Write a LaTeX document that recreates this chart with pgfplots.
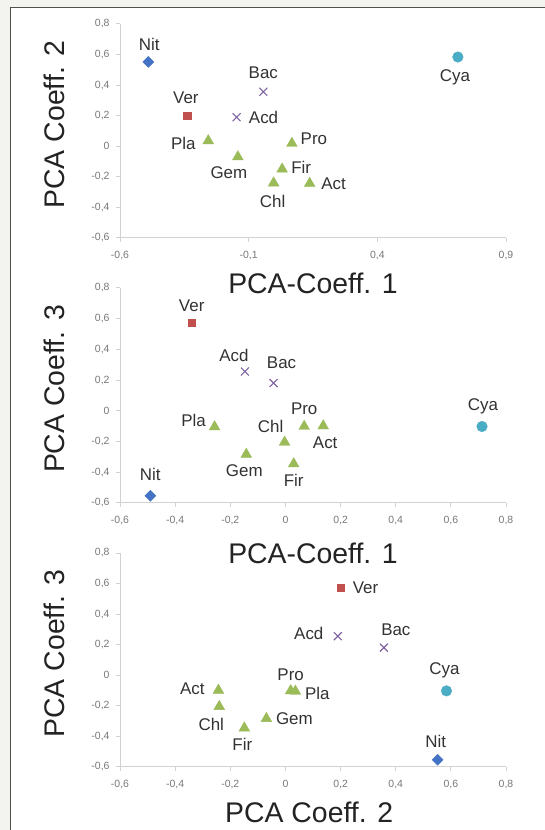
\documentclass[border=0pt]{standalone}
\usepackage{fontspec}
\setmainfont{Liberation Sans}
\usepackage{pgfplots}
\usepackage{pgfplotstable}
\pgfplotsset{compat=1.18}

\definecolor{bgc}{RGB}{243,243,239}
\definecolor{framec}{RGB}{80,80,80}
\definecolor{axisgray}{RGB}{210,210,210}
\definecolor{tickgray}{RGB}{120,120,120}
\definecolor{labgray}{RGB}{50,50,50}
\definecolor{titlec}{RGB}{35,35,35}
\definecolor{cblue}{RGB}{68,114,196}
\definecolor{cred}{RGB}{192,80,77}
\definecolor{cpurple}{RGB}{128,100,162}
\definecolor{cgreen}{RGB}{155,187,89}
\definecolor{ccyan}{RGB}{75,172,198}

% name  coeff1  coeff2  coeff3  label offsets (bp) for panel 1, 2, 3
\pgfplotstableread{
name c1 c2 c3 xa ya xb yb xc yc
Nit -0.490 0.552 -0.553 1 17 0 21 -2 18
}\tnit
\pgfplotstableread{
name c1 c2 c3 xa ya xb yb xc yc
Ver -0.340 0.200 0.573 -1 18 0 17 25 0
}\tver
\pgfplotstableread{
name c1 c2 c3 xa ya xb yb xc yc
Acd -0.147 0.190 0.256 27 0 -11 16 -29 3
Bac -0.043 0.357 0.181 0 19 8 20 12 18
}\tx
\pgfplotstableread{
name c1 c2 c3 xa ya xb yb xc yc
Pla -0.257 0.036 -0.104 -25 -3 -21 6 22 -2
Gem -0.142 -0.069 -0.283 -9 -16 -2 -16 28 0
Pro 0.068 0.019 -0.101 22 5 0 18 0 16
Fir 0.030 -0.149 -0.345 19 2 0 -17 -2 -16
Chl -0.003 -0.240 -0.204 -1 -18 -14 16 -8 -18
Act 0.137 -0.243 -0.098 24 0 2 -17 -26 2
}\ttri
\pgfplotstableread{
name c1 c2 c3 xa ya xb yb xc yc
Cya 0.713 0.584 -0.102 -3 -20 1 20 -2 21
}\tcya

\pgfplotsset{
  pca/.style={
    scale only axis, width=386bp, height=214bp,
    axis x line*=bottom, axis y line*=left,
    axis line style={draw=axisgray, line width=1bp, -},
    tick style={draw=axisgray, line width=1bp},
    tick align=outside, major tick length=4bp,
    ymin=-0.6, ymax=0.8,
    ytick={-0.6,-0.4,-0.2,0,0.2,0.4,0.6,0.8},
    scaled ticks=false,
    ticklabel style={font=\fontsize{10.5}{12}\selectfont, text=tickgray},
    yticklabel style={xshift=-3bp},
    xticklabel style={yshift=-6bp},
    /pgf/number format/.cd, use comma, fixed, precision=1, assume math mode=true,
    /pgfplots/.cd,
    clip=false,
    point meta=explicit symbolic,
    nodes near coords,
    every node near coord/.append style={font=\fontsize{17}{18}\selectfont, text=labgray, anchor=center, inner sep=0pt, xshift=\dx bp, yshift=\dy bp},
    label style={font=\fontsize{28.5}{30}\selectfont, text=titlec},
    xlabel style={at={(axis description cs:0.5,-0.21)}, anchor=center},
    ylabel style={at={(axis description cs:-0.171,0.53)}, anchor=center},
  },
  mnit/.style={only marks, mark=square*, mark size=3.9bp, mark options={fill=cblue, draw=cblue, rotate=45}},
  mver/.style={only marks, mark=square*, mark size=3.8bp, mark options={fill=cred, draw=cred}},
  mx/.style={only marks, mark=x, mark size=5.6bp, mark options={draw=cpurple, line width=1.1bp}},
  mtri/.style={only marks, mark=triangle*, mark size=6.2bp, mark options={fill=cgreen, draw=cgreen}},
  mcya/.style={only marks, mark=*, mark size=5.3bp, mark options={fill=ccyan, draw=ccyan}},
}

\begin{document}
\begin{tikzpicture}
\useasboundingbox (0,0) rectangle (545bp,830bp);
\fill[bgc] (0,0) rectangle (545bp,830bp);
\fill[white] (10.5bp,0) rectangle (545bp,822.5bp);
\draw[framec, line width=1.6bp] (10.5bp,0) -- (10.5bp,822.5bp) -- (545bp,822.5bp);

% Panel 1
\begin{axis}[pca, at={(120bp,592bp)}, anchor=south west,
  xmin=-0.6, xmax=0.9, xtick={-0.6,-0.1,0.4,0.9},
  xlabel={PCA-Coeff. 1}, ylabel={PCA Coeff. 2},
  visualization depends on={\thisrow{xa}\as\dx},
  visualization depends on={\thisrow{ya}\as\dy}]
\addplot[mnit] table[x=c1, y=c2, meta=name] {\tnit};
\addplot[mver] table[x=c1, y=c2, meta=name] {\tver};
\addplot[mx] table[x=c1, y=c2, meta=name] {\tx};
\addplot[mtri] table[x=c1, y=c2, meta=name] {\ttri};
\addplot[mcya] table[x=c1, y=c2, meta=name] {\tcya};
\end{axis}

% Panel 2
\begin{axis}[pca, at={(120bp,327bp)}, anchor=south west,
  height=215bp,
  xmin=-0.6, xmax=0.8, xtick={-0.6,-0.4,-0.2,0,0.2,0.4,0.6,0.8},
  xlabel={PCA-Coeff. 1}, ylabel={PCA Coeff. 3},
  xlabel style={at={(axis description cs:0.5,-0.233)}},
  visualization depends on={\thisrow{xb}\as\dx},
  visualization depends on={\thisrow{yb}\as\dy}]
\addplot[mnit] table[x=c1, y=c3, meta=name] {\tnit};
\addplot[mver] table[x=c1, y=c3, meta=name] {\tver};
\addplot[mx] table[x=c1, y=c3, meta=name] {\tx};
\addplot[mtri] table[x=c1, y=c3, meta=name] {\ttri};
\addplot[mcya] table[x=c1, y=c3, meta=name] {\tcya};
\end{axis}

% Panel 3
\begin{axis}[pca, at={(120bp,63bp)}, anchor=south west,
  xmin=-0.6, xmax=0.8, xtick={-0.6,-0.4,-0.2,0,0.2,0.4,0.6,0.8},
  xlabel={PCA Coeff. 2}, ylabel={PCA Coeff. 3},
  xlabel style={at={(axis description cs:0.49,-0.21)}},
  visualization depends on={\thisrow{xc}\as\dx},
  visualization depends on={\thisrow{yc}\as\dy}]
\addplot[mnit] table[x=c2, y=c3, meta=name] {\tnit};
\addplot[mver] table[x=c2, y=c3, meta=name] {\tver};
\addplot[mx] table[x=c2, y=c3, meta=name] {\tx};
\addplot[mtri] table[x=c2, y=c3, meta=name] {\ttri};
\addplot[mcya] table[x=c2, y=c3, meta=name] {\tcya};
\end{axis}
\end{tikzpicture}
\end{document}
